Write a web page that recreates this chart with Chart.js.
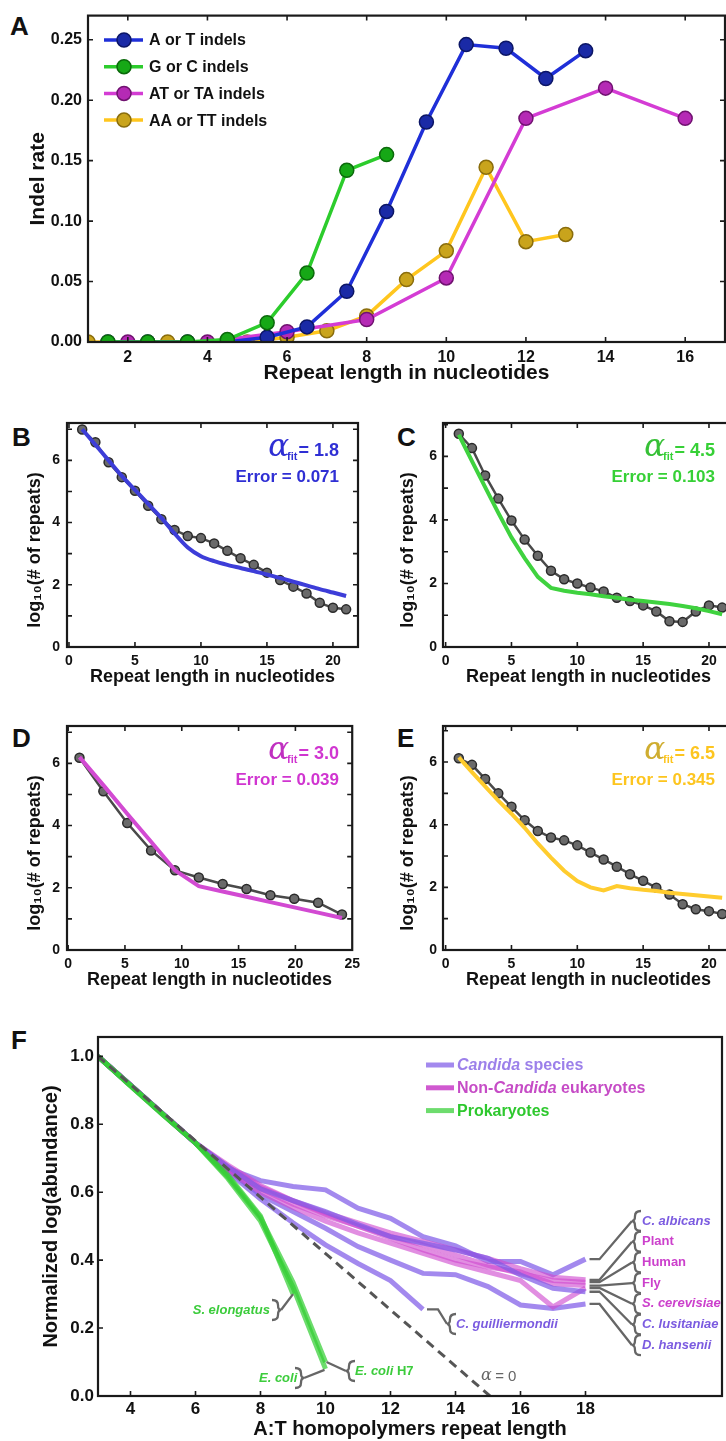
<!DOCTYPE html>
<html>
<head>
<meta charset="utf-8">
<script src="https://cdn.jsdelivr.net/npm/chart.js@4.4.1/dist/chart.umd.min.js"></script>
<style>
  body { margin: 0; width: 726px; height: 1441px; overflow: hidden; background: #fff; position: relative;
         font-family: 'Liberation Sans', Arial, sans-serif; }
  .panel { position: absolute; }
  .letter { position: absolute; font-weight: bold; font-size: 26px; line-height: 1; color: #111; }
</style>
</head>
<body>
<div class="letter" style="left:10px;top:13px">A</div>
<div class="letter" style="left:12px;top:424px">B</div>
<div class="letter" style="left:397px;top:424px">C</div>
<div class="letter" style="left:12px;top:725px">D</div>
<div class="letter" style="left:397px;top:725px">E</div>
<div class="letter" style="left:11px;top:1027px">F</div>

<div class="panel" style="left:0;top:0;width:726px;height:390px"><canvas id="chartA"></canvas></div>
<div class="panel" style="left:0;top:405px;width:366px;height:295px"><canvas id="chartB"></canvas></div>
<div class="panel" style="left:376px;top:405px;width:366px;height:295px"><canvas id="chartC"></canvas></div>
<div class="panel" style="left:0;top:708px;width:366px;height:295px"><canvas id="chartD"></canvas></div>
<div class="panel" style="left:376px;top:708px;width:366px;height:295px"><canvas id="chartE"></canvas></div>
<div class="panel" style="left:0;top:1020px;width:726px;height:421px"><canvas id="chartF"></canvas></div>

<script>
const SANS = "'Liberation Sans', Arial, sans-serif";
const SERIF = "'DejaVu Serif', 'Liberation Serif', serif";

// ---- panel A: indel rate vs repeat length ----
const lenAT = [1.5, 2.5, 3.5, 4.5, 5.5, 6.5, 7.5, 8.5, 9.5, 10.5, 11.5, 12.5, 13.5];
const rateAT = [0, 0, 0, 0, 0.004, 0.0125, 0.042, 0.108, 0.182, 0.246, 0.243, 0.218, 0.241];
const lenGC = [1.5, 2.5, 3.5, 4.5, 5.5, 6.5, 7.5, 8.5];
const rateGC = [0, 0, 0, 0.002, 0.016, 0.057, 0.142, 0.155];
const lenATTA = [2, 4, 6, 8, 10, 12, 14, 16];
const rateATTA = [0, 0, 0.0085, 0.0186, 0.053, 0.185, 0.21, 0.185];
const lenAATT = [1, 3, 5, 6, 7, 8, 9, 10, 11, 12, 13];
const rateAATT = [0, 0, 0, 0.004, 0.0093, 0.0216, 0.0516, 0.0754, 0.1445, 0.083, 0.089];
const ticksAX = [2, 4, 6, 8, 10, 12, 14, 16];
const ticksAY = [0, 0.05, 0.1, 0.15, 0.2, 0.25];
const labelsAY = ['0.00', '0.05', '0.10', '0.15', '0.20', '0.25'];
const legendA = ['A or T indels', 'G or C indels', 'AT or TA indels', 'AA or TT indels'];

// ---- panels B-E: log10 repeat counts and fits ----
const len21 = [1, 2, 3, 4, 5, 6, 7, 8, 9, 10, 11, 12, 13, 14, 15, 16, 17, 18, 19, 20, 21];
const obsB = [6.99, 6.58, 5.94, 5.46, 5.02, 4.54, 4.11, 3.76, 3.57, 3.5, 3.33, 3.09, 2.85, 2.64, 2.39, 2.15, 1.94, 1.72, 1.42, 1.26, 1.21];
const fitB = [7.0, 6.5, 6.0, 5.5, 5.05, 4.6, 4.15, 3.65, 3.2, 2.92, 2.76, 2.64, 2.54, 2.44, 2.33, 2.22, 2.1, 1.98, 1.86, 1.75, 1.64];
const obsC = [6.71, 6.26, 5.4, 4.67, 3.98, 3.38, 2.87, 2.4, 2.13, 2.0, 1.87, 1.75, 1.55, 1.45, 1.31, 1.12, 0.81, 0.79, 1.12, 1.31, 1.24];
const fitC = [6.68, 5.85, 5.03, 4.22, 3.45, 2.8, 2.21, 1.86, 1.77, 1.71, 1.66, 1.6, 1.55, 1.49, 1.45, 1.4, 1.35, 1.29, 1.22, 1.13, 1.03];
const lenD = [1, 3.1, 5.2, 7.3, 9.4, 11.5, 13.6, 15.7, 17.8, 19.9, 22, 24.1];
const obsD = [6.18, 5.1, 4.08, 3.2, 2.56, 2.33, 2.12, 1.96, 1.76, 1.65, 1.52, 1.14];
const fitD = [6.2, 5.3, 4.38, 3.48, 2.56, 2.05, 1.88, 1.71, 1.54, 1.37, 1.2, 1.03];
const obsE = [6.12, 5.91, 5.46, 5.0, 4.57, 4.14, 3.8, 3.59, 3.5, 3.34, 3.11, 2.89, 2.66, 2.42, 2.21, 1.99, 1.77, 1.46, 1.3, 1.24, 1.15];
const fitE = [6.15, 5.68, 5.22, 4.77, 4.35, 3.9, 3.4, 2.95, 2.53, 2.2, 2.0, 1.9, 2.04, 1.97, 1.92, 1.88, 1.83, 1.79, 1.75, 1.71, 1.67];
const alphaFit = { B: '1.8', C: '4.5', D: '3.0', E: '6.5' };
const errorFit = { B: '0.071', C: '0.103', D: '0.039', E: '0.345' };
const ticksLogY = [0, 1, 2, 3, 4, 5, 6, 7];
const labelsLogY = ['0', '', '2', '', '4', '', '6', ''];
const ticks20 = [0, 5, 10, 15, 20];
const ticks25 = [0, 5, 10, 15, 20, 25];

// ---- panel F: normalized log abundance ----
const lenF = [3, 4, 5, 6, 7, 8, 9, 10, 11, 12, 13, 14, 15, 16, 17, 18];
const albicans = [1, 0.915, 0.83, 0.745, 0.67, 0.634, 0.617, 0.607, 0.553, 0.523, 0.469, 0.442, 0.396, 0.396, 0.357, 0.403];
const guilliermondii = [1, 0.915, 0.83, 0.745, 0.66, 0.58, 0.51, 0.445, 0.39, 0.34, 0.255];
const lusitaniae = [1, 0.915, 0.83, 0.745, 0.675, 0.61, 0.575, 0.543, 0.505, 0.469, 0.45, 0.43, 0.405, 0.356, 0.317, 0.307];
const hansenii = [1, 0.915, 0.83, 0.745, 0.665, 0.592, 0.543, 0.494, 0.44, 0.4, 0.361, 0.357, 0.322, 0.268, 0.258, 0.271];
const plant = [1, 0.915, 0.83, 0.745, 0.675, 0.615, 0.575, 0.54, 0.51, 0.48, 0.455, 0.43, 0.405, 0.375, 0.35, 0.342];
const human = [1, 0.915, 0.83, 0.745, 0.67, 0.61, 0.565, 0.53, 0.5, 0.47, 0.445, 0.415, 0.385, 0.36, 0.34, 0.335];
const fly = [1, 0.915, 0.83, 0.745, 0.68, 0.62, 0.575, 0.535, 0.5, 0.465, 0.43, 0.4, 0.38, 0.365, 0.33, 0.325];
const cerevisiae = [1, 0.915, 0.83, 0.745, 0.665, 0.6, 0.555, 0.515, 0.48, 0.45, 0.42, 0.39, 0.365, 0.34, 0.262, 0.318];
const eColi = [1, 0.913, 0.828, 0.745, 0.64, 0.515, 0.32, 0.08];
const eColiH7 = [1, 0.913, 0.828, 0.745, 0.645, 0.525, 0.335, 0.1];
const sElongatus = [1, 0.915, 0.83, 0.745, 0.65, 0.53, 0.3];
const alphaZeroLen = [3, 15.06];
const alphaZeroVal = [1, 0];
const ticksFX = [4, 6, 8, 10, 12, 14, 16, 18];
const ticksFY = [0, 0.2, 0.4, 0.6, 0.8, 1.0];
const labelsFY = ['0.0', '0.2', '0.4', '0.6', '0.8', '1.0'];

Chart.defaults.font.family = SANS;
Chart.defaults.font.weight = 'bold';
Chart.defaults.color = '#111';
Chart.defaults.animation = false;

function pts(xs, ys) { return ys.map((y, i) => ({ x: xs[i], y: y })); }

// axes with fixed sizes so every plot box lands where the figure has it
function makeScales(o) {
  return {
    x: {
      type: 'linear', min: o.xMin, max: o.xMax,
      grid: { display: false, drawTicks: false }, border: { display: false },
      ticks: { font: { size: o.tick, weight: 'bold' }, color: '#111', padding: o.xTickPad,
               maxRotation: 0, autoSkip: false,
               callback: (v, i) => o.xLabels ? o.xLabels[i] : String(v) },
      afterBuildTicks: s => { s.ticks = o.xTicks.map(v => ({ value: v })); },
      afterFit: s => { s.height = o.xH; },
      title: { display: true, text: o.xTitle, color: '#111', font: { size: o.xTitleSize, weight: 'bold' },
               padding: { top: 0, bottom: o.xTitlePad } }
    },
    y: {
      type: 'linear', min: o.yMin, max: o.yMax,
      grid: { display: false, drawTicks: false }, border: { display: false },
      ticks: { font: { size: o.tick, weight: 'bold' }, color: '#111', padding: o.yTickPad, autoSkip: false,
               callback: (v, i) => o.yLabels ? o.yLabels[i] : String(v) },
      afterBuildTicks: s => { s.ticks = o.yTicks.map(v => ({ value: v })); },
      afterFit: s => { s.width = o.yW; },
      title: { display: !!o.yTitle, text: o.yTitle || '', color: '#111', font: { size: o.yTitleSize, weight: 'bold' },
               padding: { top: o.yTitlePad || 0, bottom: 0 } }
    }
  };
}

// box around the plot with inward tick marks
function framePlugin(allSides) {
  return {
    id: 'frame',
    afterDatasetsDraw(chart) {
      const { ctx, chartArea: a, scales: { x, y } } = chart;
      const L = 5;
      ctx.save();
      ctx.strokeStyle = '#1a1a1a';
      ctx.lineWidth = 1.6;
      ctx.beginPath();
      x.ticks.forEach(t => {
        const px = x.getPixelForValue(t.value);
        if (px <= a.left + 1 || px >= a.right - 1) return;
        ctx.moveTo(px, a.bottom); ctx.lineTo(px, a.bottom - L);
        if (allSides) { ctx.moveTo(px, a.top); ctx.lineTo(px, a.top + L); }
      });
      y.ticks.forEach(t => {
        const py = y.getPixelForValue(t.value);
        if (py <= a.top + 1 || py >= a.bottom - 1) return;
        ctx.moveTo(a.left, py); ctx.lineTo(a.left + L, py);
        if (allSides) { ctx.moveTo(a.right, py); ctx.lineTo(a.right - L, py); }
      });
      ctx.stroke();
      ctx.lineWidth = 2.2;
      ctx.strokeRect(a.left, a.top, a.right - a.left, a.bottom - a.top);
      ctx.restore();
    }
  };
}

// ---------------- Panel A ----------------
const colA = [
  { line: '#1f2fd8', fill: '#1a2aa6', edge: '#0c1666' },
  { line: '#2ccc2c', fill: '#16a816', edge: '#0b6a0b' },
  { line: '#d43cd4', fill: '#b52ab5', edge: '#701270' },
  { line: '#ffc61e', fill: '#c9a41c', edge: '#8a6d0c' }
];
function seriesA(xs, ys, c, order) {
  return { data: pts(xs, ys), borderColor: c.line, borderWidth: 3.5, pointRadius: 7,
           pointBackgroundColor: c.fill, pointBorderColor: c.edge, pointBorderWidth: 1.5,
           tension: 0, order: order };
}
const legendAPlugin = {
  id: 'legendA',
  afterDraw(chart) {
    const ctx = chart.ctx;
    ctx.save();
    legendA.forEach((label, i) => {
      const y = 40 + i * 26.7;
      const c = colA[i];
      ctx.strokeStyle = c.line; ctx.lineWidth = 3.5;
      ctx.beginPath(); ctx.moveTo(104, y); ctx.lineTo(143, y); ctx.stroke();
      ctx.beginPath(); ctx.arc(124, y, 7, 0, Math.PI * 2);
      ctx.fillStyle = c.fill; ctx.fill();
      ctx.lineWidth = 1.5; ctx.strokeStyle = c.edge; ctx.stroke();
      ctx.fillStyle = '#111'; ctx.font = `bold 16px ${SANS}`;
      ctx.textBaseline = 'middle'; ctx.textAlign = 'left';
      ctx.fillText(label, 149, y + 1);
    });
    ctx.restore();
  }
};
new Chart(document.getElementById('chartA'), {
  type: 'line',
  data: { datasets: [
    seriesA(lenAT, rateAT, colA[0], 2),
    seriesA(lenGC, rateGC, colA[1], 1),
    seriesA(lenATTA, rateATTA, colA[2], 3),
    seriesA(lenAATT, rateAATT, colA[3], 4)
  ] },
  options: {
    responsive: true, maintainAspectRatio: false,
    layout: { autoPadding: false, padding: { top: 12, right: 1, left: 0, bottom: 0 } },
    plugins: { legend: { display: false }, tooltip: { enabled: false } },
    scales: makeScales({
      xMin: 1, xMax: 17, xTicks: ticksAX, xH: 48, xTickPad: 6, tick: 16,
      xTitle: 'Repeat length in nucleotides', xTitleSize: 21, xTitlePad: 4,
      yMin: 0, yMax: 0.27, yTicks: ticksAY, yLabels: labelsAY, yW: 88, yTickPad: 6,
      yTitle: 'Indel rate', yTitleSize: 21, yTitlePad: 26
    })
  },
  plugins: [framePlugin(true), legendAPlugin]
});

// ---------------- Panels B-E ----------------
function fitNote(alphaVal, errVal, color, alphaColor, titleX) {
  return {
    id: 'fitNote',
    afterDraw(chart) {
      const { ctx, chartArea: a } = chart;
      const R = a.left + 272, y1 = a.top + 33, y2 = a.top + 59;
      ctx.save();
      ctx.textBaseline = 'alphabetic'; ctx.textAlign = 'left';
      ctx.fillStyle = color;
      ctx.font = `bold 18px ${SANS}`;
      const main = '= ' + alphaVal;
      const wMain = ctx.measureText(main).width;
      ctx.fillText(main, R - wMain, y1);
      ctx.font = `bold 11px ${SANS}`;
      const wFit = ctx.measureText('fit').width;
      ctx.fillText('fit', R - wMain - wFit - 1, y1 + 4);
      ctx.font = `italic 31px ${SERIF}`;
      const wA = ctx.measureText('α').width;
      ctx.fillStyle = alphaColor;
      ctx.fillText('α', R - wMain - wFit - wA + 1, y1);
      ctx.fillStyle = color;
      ctx.font = `bold 17px ${SANS}`;
      const err = 'Error = ' + errVal;
      ctx.fillText(err, R - ctx.measureText(err).width, y2);
      // rotated axis title, sitting a little below the middle of the box as in the figure
      ctx.translate(titleX, (a.top + a.bottom) / 2 + 15);
      ctx.rotate(-Math.PI / 2);
      ctx.fillStyle = '#111';
      ctx.textAlign = 'center'; ctx.textBaseline = 'middle';
      ctx.font = `bold 18px ${SANS}`;
      ctx.fillText('log₁₀(# of repeats)', 0, 0);
      ctx.restore();
    }
  };
}
function logPanel(id, xs, obs, fit, fitColor, tension, xMin, xMax, xTicks, yMax, yTickPad, note) {
  new Chart(document.getElementById(id), {
    type: 'line',
    data: { datasets: [
      { data: pts(xs, fit), borderColor: fitColor, borderWidth: 4, pointRadius: 0, tension: tension },
      { data: pts(xs, obs), borderColor: '#4a4a4a', borderWidth: 2.5, pointRadius: 4.5,
        pointBackgroundColor: '#6a6a6a', pointBorderColor: '#2a2a2a', pointBorderWidth: 1.5, tension: 0 }
    ] },
    options: {
      responsive: true, maintainAspectRatio: false,
      layout: { autoPadding: false, padding: { top: 18, right: 8, left: 0, bottom: 0 } },
      plugins: { legend: { display: false }, tooltip: { enabled: false } },
      scales: makeScales({
        xMin: xMin, xMax: xMax, xTicks: xTicks, xH: 53, xTickPad: 6, tick: 14,
        xTitle: 'Repeat length in nucleotides', xTitleSize: 18, xTitlePad: 12,
        yMin: 0, yMax: yMax, yTicks: ticksLogY, yLabels: labelsLogY, yW: 67, yTickPad: yTickPad
      })
    },
    plugins: [framePlugin(true), note]
  });
}
logPanel('chartB', len21, obsB, fitB, '#3d3dd8', 0.3, -0.15, 21.9, ticks20, 7.2, 7,
         fitNote(alphaFit.B, errorFit.B, '#2f2fd4', '#2f2fd4', 35));
logPanel('chartC', len21, obsC, fitC, '#3fd23f', 0, -0.2, 21.9, ticks20, 7.05, 6,
         fitNote(alphaFit.C, errorFit.C, '#36d036', '#36c036', 32));
logPanel('chartD', lenD, obsD, fitD, '#d24ad2', 0, -0.1, 25, ticks25, 7.2, 7,
         fitNote(alphaFit.D, errorFit.D, '#d035d0', '#c030c0', 35));
logPanel('chartE', len21, obsE, fitE, '#ffcc2e', 0, -0.2, 21.9, ticks20, 7.15, 6,
         fitNote(alphaFit.E, errorFit.E, '#fdc51f', '#cfad30', 32));

// ---------------- Panel F ----------------
const PURPLE = 'rgba(128, 92, 232, 0.72)';
const MAGENTA = 'rgba(206, 72, 206, 0.62)';
const GREEN = 'rgba(52, 206, 52, 0.72)';
function lineF(vals, color, order) {
  return { data: pts(lenF, vals), borderColor: color, borderWidth: 5, pointRadius: 0, tension: 0, order: order };
}
function drawRuns(ctx, x, y, runs, size, color) {
  ctx.fillStyle = color;
  runs.forEach(r => {
    ctx.font = `${r.i ? 'italic ' : ''}bold ${size}px ${SANS}`;
    ctx.fillText(r.t, x, y);
    x += ctx.measureText(r.t).width;
  });
}
function brace(ctx, tx, y, dir, h) {
  // dir 1: tip on the left, opens right; dir -1: tip on the right
  ctx.beginPath();
  ctx.moveTo(tx + dir * 9, y - h);
  ctx.quadraticCurveTo(tx + dir * 3, y - h, tx + dir * 3, y - h / 2);
  ctx.quadraticCurveTo(tx + dir * 3, y, tx, y);
  ctx.quadraticCurveTo(tx + dir * 3, y, tx + dir * 3, y + h / 2);
  ctx.quadraticCurveTo(tx + dir * 3, y + h, tx + dir * 9, y + h);
  ctx.stroke();
}
const rightLabels = [
  { runs: [{ t: 'C. albicans', i: 1 }], color: '#7b5be0', end: albicans },
  { runs: [{ t: 'Plant' }], color: '#cc40cc', end: plant },
  { runs: [{ t: 'Human' }], color: '#cc40cc', end: human },
  { runs: [{ t: 'Fly' }], color: '#cc40cc', end: fly },
  { runs: [{ t: 'S. cerevisiae', i: 1 }], color: '#cc40cc', end: cerevisiae },
  { runs: [{ t: 'C. lusitaniae', i: 1 }], color: '#7b5be0', end: lusitaniae },
  { runs: [{ t: 'D. hansenii', i: 1 }], color: '#7b5be0', end: hansenii }
];
const notesFPlugin = {
  id: 'notesF',
  afterDraw(chart) {
    const { ctx, scales: { x, y } } = chart;
    ctx.save();
    ctx.textBaseline = 'middle'; ctx.textAlign = 'left';
    // legend
    const leg = [
      { runs: [{ t: 'Candida', i: 1 }, { t: ' species' }], line: PURPLE, color: '#9c80ea' },
      { runs: [{ t: 'Non-' }, { t: 'Candida', i: 1 }, { t: ' eukaryotes' }], line: 'rgba(200, 60, 200, 0.85)', color: '#c64cc6' },
      { runs: [{ t: 'Prokaryotes' }], line: GREEN, color: '#2ec82e' }
    ];
    leg.forEach((e, i) => {
      const yy = 45 + i * 22.8;
      ctx.strokeStyle = e.line; ctx.lineWidth = 5;
      ctx.beginPath(); ctx.moveTo(426, yy); ctx.lineTo(454, yy); ctx.stroke();
      drawRuns(ctx, 457, yy + 1, e.runs, 16, e.color);
    });
    // leaders and species names at the right
    ctx.strokeStyle = '#666'; ctx.lineWidth = 2.3;
    const x18 = x.getPixelForValue(18);
    rightLabels.forEach((r, i) => {
      const ly = 201 + i * 20.7;
      const sy = y.getPixelForValue(r.end[r.end.length - 1]);
      ctx.beginPath();
      ctx.moveTo(x18 + 4, sy); ctx.lineTo(x18 + 14, sy); ctx.lineTo(632, ly);
      ctx.stroke();
      brace(ctx, 632, ly, 1, 10);
      drawRuns(ctx, 642, ly, r.runs, 13, r.color);
    });
    // C. guilliermondii
    const gx = x.getPixelForValue(13), gy = y.getPixelForValue(guilliermondii[guilliermondii.length - 1]);
    ctx.beginPath(); ctx.moveTo(gx + 4, gy); ctx.lineTo(gx + 15, gy); ctx.lineTo(447, 304); ctx.stroke();
    brace(ctx, 447, 304, 1, 10);
    drawRuns(ctx, 456, 304, [{ t: 'C. guilliermondii', i: 1 }], 13, '#7b5be0');
    // prokaryotes
    const ex = x.getPixelForValue(10);
    const e1 = y.getPixelForValue(eColi[eColi.length - 1]);
    const e2 = y.getPixelForValue(eColiH7[eColiH7.length - 1]);
    ctx.beginPath(); ctx.moveTo(ex - 1, e1 + 1); ctx.lineTo(304, 358); ctx.stroke();
    brace(ctx, 304, 358, -1, 10);
    drawRuns(ctx, 259, 358, [{ t: 'E. coli', i: 1 }], 13, '#3ccc3c');
    ctx.beginPath(); ctx.moveTo(ex + 1, e2); ctx.lineTo(346, 351); ctx.stroke();
    brace(ctx, 346, 351, 1, 10);
    drawRuns(ctx, 355, 351, [{ t: 'E. coli', i: 1 }, { t: ' H7' }], 13, '#3ccc3c');
    const sx = x.getPixelForValue(9), sy9 = y.getPixelForValue(sElongatus[sElongatus.length - 1]);
    ctx.beginPath(); ctx.moveTo(sx, sy9); ctx.lineTo(281, 290); ctx.stroke();
    brace(ctx, 281, 290, -1, 10);
    ctx.font = `italic bold 13px ${SANS}`;
    const wS = ctx.measureText('S. elongatus').width;
    drawRuns(ctx, 270 - wS, 290, [{ t: 'S. elongatus', i: 1 }], 13, '#3ccc3c');
    // alpha = 0 marker on the dashed line
    ctx.fillStyle = '#666';
    ctx.font = `italic 16px ${SERIF}`;
    ctx.fillText('α', 481, 356);
    ctx.font = `15px ${SANS}`;
    ctx.fillText(' = 0', 481 + 10, 357);
    ctx.restore();
  }
};
new Chart(document.getElementById('chartF'), {
  type: 'line',
  data: { datasets: [
    { data: pts(alphaZeroLen, alphaZeroVal), borderColor: '#555', borderWidth: 3, borderDash: [9, 6],
      pointRadius: 0, order: 0 },
    lineF(eColi, GREEN, 1), lineF(eColiH7, GREEN, 1), lineF(sElongatus, GREEN, 1),
    lineF(lusitaniae, PURPLE, 2),
    lineF(plant, MAGENTA, 3), lineF(human, MAGENTA, 3), lineF(fly, MAGENTA, 3), lineF(cerevisiae, MAGENTA, 3),
    lineF(albicans, PURPLE, 4), lineF(hansenii, PURPLE, 4), lineF(guilliermondii, PURPLE, 4)
  ] },
  options: {
    responsive: true, maintainAspectRatio: false,
    layout: { autoPadding: false, padding: { top: 17, right: 4, left: 0, bottom: 0 } },
    plugins: { legend: { display: false }, tooltip: { enabled: false } },
    scales: makeScales({
      xMin: 3, xMax: 22.2, xTicks: ticksFX, xH: 45, xTickPad: 3, tick: 17,
      xTitle: 'A:T homopolymers repeat length', xTitleSize: 20, xTitlePad: 0,
      yMin: 0, yMax: 1.057, yTicks: ticksFY, yLabels: labelsFY, yW: 98, yTickPad: 4,
      yTitle: 'Normalized log(abundance)', yTitleSize: 20, yTitlePad: 39
    })
  },
  plugins: [framePlugin(false), notesFPlugin]
});
</script>
</body>
</html>
